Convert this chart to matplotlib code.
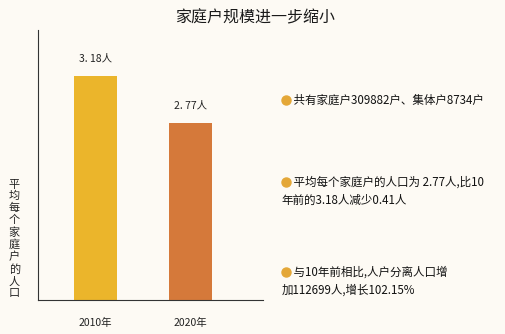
import matplotlib.pyplot as plt
from matplotlib.lines import Line2D

plt.rcParams['font.family'] = ['Noto Sans CJK SC', 'DejaVu Sans']

years = ["2010年", "2020年"]
avg_size = [3.18, 2.77]
value_labels = ["3. 18人", "2. 77人"]
bar_colors = ["#ebb52b", "#d5793a"]
notes = [
    "共有家庭户309882户、集体户8734户",
    "平均每个家庭户的人口为 2.77人,比10\n年前的3.18人减少0.41人",
    "与10年前相比,人户分离人口增\n加112699人,增长102.15%",
]

fig = plt.figure(figsize=(5.06, 3.34), dpi=100)
fig.patch.set_facecolor("#fdfaf4")

ax = fig.add_axes([0.075, 0.102, 0.445, 0.808])
ax.set_facecolor("none")
x = range(len(years))
ax.bar(x, avg_size, width=0.455, color=bar_colors)
ax.set_ylim(1.226, 3.58)
ax.set_xlim(-0.608, 1.772)
for i, lab in enumerate(value_labels):
    ax.annotate(lab, (i, avg_size[i]), xytext=(0, 9), textcoords="offset points",
                ha="center", va="bottom", fontsize=7.5, color="#222222")

ax.spines["top"].set_visible(False)
ax.spines["right"].set_visible(False)
ax.spines["left"].set_color("#333333")
ax.spines["bottom"].set_color("#333333")
ax.set_yticks([])
ax.set_xticks(list(x))
ax.set_xticklabels(years, fontsize=7.5, color="#222222")
ax.tick_params(axis="x", length=0, pad=13)

fig.text(0.505, 0.945, "家庭户规模进一步缩小", ha="center", va="center", fontsize=11.5,
         color="#1a1a1a", fontweight="medium")
fig.text(0.028, 0.285, "\n".join("平均每个家庭户的人口"), ha="center", va="center",
         fontsize=8, linespacing=1.2, color="#222222")

note_y = [0.72, 0.475, 0.205]
for ny, note in zip(note_y, notes):
    # bullet drawn as a marker, text indented on first line only
    fig.add_artist(Line2D([0.565], [ny - 0.019], marker="o", markersize=6.5,
                          color="#e4a737", transform=fig.transFigure))
    fig.text(0.557, ny, "\u2002\u2002" + note, fontsize=8.3, ha="left", va="top",
             linespacing=1.55, color="#111111")

fig.savefig("out.png", dpi=100, facecolor=fig.get_facecolor())
